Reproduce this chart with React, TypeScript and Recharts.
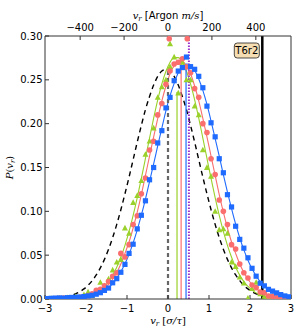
import React from 'react';
import { ComposedChart, XAxis, YAxis, Line, Scatter, ReferenceLine } from 'recharts';

const binCenters = [
  -2.95, -2.85, -2.75, -2.65, -2.55, -2.45, -2.35, -2.25, -2.15, -2.05,
  -1.95, -1.85, -1.75, -1.65, -1.55, -1.45, -1.35, -1.25, -1.15, -1.05,
  -0.95, -0.85, -0.75, -0.65, -0.55, -0.45, -0.35, -0.25, -0.15, -0.05,
  0.05, 0.15, 0.25, 0.35, 0.45, 0.55, 0.65, 0.75, 0.85, 0.95,
  1.05, 1.15, 1.25, 1.35, 1.45, 1.55, 1.65, 1.75, 1.85, 1.95,
  2.05, 2.15, 2.25, 2.35, 2.45, 2.55, 2.65, 2.75, 2.85, 2.95,
];

const blueFit = [
  0.0, 0.0, 0.0001, 0.0001, 0.0001, 0.0002, 0.0004, 0.0006, 0.001, 0.0015,
  0.0022, 0.0032, 0.0047, 0.0067, 0.0094, 0.0129, 0.0176, 0.0236, 0.031, 0.0401,
  0.051, 0.0641, 0.0789, 0.0956, 0.114, 0.134, 0.154, 0.175, 0.195, 0.215,
  0.232, 0.246, 0.258, 0.265, 0.268, 0.267, 0.261, 0.251, 0.238, 0.222,
  0.203, 0.183, 0.163, 0.142, 0.122, 0.103, 0.0853, 0.0698, 0.056, 0.0443,
  0.0344, 0.0263, 0.0198, 0.0147, 0.0107, 0.0076, 0.0054, 0.0037, 0.0026, 0.0017,
];
const redFit = [
  0.0, 0.0, 0.0001, 0.0001, 0.0002, 0.0003, 0.0004, 0.0007, 0.0011, 0.0018,
  0.0027, 0.004, 0.0058, 0.0085, 0.012, 0.0166, 0.0226, 0.0304, 0.04, 0.052,
  0.065, 0.081, 0.099, 0.119, 0.141, 0.163, 0.185, 0.206, 0.226, 0.243,
  0.257, 0.266, 0.271, 0.271, 0.266, 0.257, 0.243, 0.226, 0.206, 0.185,
  0.163, 0.141, 0.119, 0.099, 0.081, 0.065, 0.052, 0.04, 0.0304, 0.0226,
  0.0166, 0.012, 0.0085, 0.0058, 0.004, 0.0027, 0.0018, 0.0011, 0.0007, 0.0004,
];
const greenFit = [
  0.0, 0.0, 0.0001, 0.0001, 0.0002, 0.0003, 0.0005, 0.0008, 0.0013, 0.0021,
  0.0032, 0.0048, 0.007, 0.0102, 0.0144, 0.0199, 0.0272, 0.0363, 0.0476, 0.0612,
  0.0771, 0.0953, 0.1156, 0.1375, 0.1604, 0.1836, 0.2062, 0.2271, 0.2453, 0.2598,
  0.2701, 0.2753, 0.2753, 0.2701, 0.2598, 0.2453, 0.2271, 0.2062, 0.1836, 0.1604,
  0.1375, 0.1156, 0.0953, 0.0771, 0.0612, 0.0476, 0.0363, 0.0272, 0.0199, 0.0144,
  0.0102, 0.007, 0.0048, 0.0032, 0.0021, 0.0013, 0.0008, 0.0005, 0.0003, 0.0002,
];
const refFit = [
  0.0004, 0.0006, 0.0009, 0.0013, 0.002, 0.0029, 0.0042, 0.006, 0.0084, 0.0115,
  0.0156, 0.0209, 0.0274, 0.0355, 0.0452, 0.0567, 0.07, 0.0851, 0.1018, 0.12,
  0.139, 0.159, 0.179, 0.198, 0.216, 0.231, 0.244, 0.254, 0.26, 0.262,
  0.26, 0.254, 0.244, 0.231, 0.216, 0.198, 0.179, 0.159, 0.139, 0.12,
  0.1018, 0.0851, 0.07, 0.0567, 0.0452, 0.0355, 0.0274, 0.0209, 0.0156, 0.0115,
  0.0084, 0.006, 0.0042, 0.0029, 0.002, 0.0013, 0.0009, 0.0006, 0.0004, 0.0003,
];

const blueObs = [
  0.0005, 0.0008, 0.001, 0.0012, 0.001, 0.0015, 0.0018, 0.002, 0.0022, 0.0028,
  0.0035, 0.0042, 0.0055, 0.0072, 0.0098, 0.0125, 0.0185, 0.0232, 0.0305, 0.0395,
  0.052, 0.0625, 0.08, 0.0955, 0.112, 0.136, 0.15, 0.178, 0.192, 0.218,
  0.23, 0.249, 0.26, 0.264, 0.276, 0.265, 0.262, 0.254, 0.241, 0.22,
  0.201, 0.185, 0.16, 0.144, 0.119, 0.105, 0.083, 0.068, 0.058, 0.047,
  0.035, 0.026, 0.018, 0.015, 0.011, 0.009, 0.007, 0.005, 0.0035, 0.0025,
];
const redObs = [
  0.0002, 0.0003, 0.0005, 0.0008, 0.001, 0.0006, 0.0012, 0.0015, 0.002, 0.0025,
  0.004, 0.006, 0.01, 0.011, 0.015, 0.02, 0.026, 0.03, 0.052, 0.048,
  0.062, 0.085, 0.095, 0.12, 0.138, 0.17, 0.18, 0.21, 0.223, 0.245,
  0.26, 0.268, 0.27, 0.274, 0.265, 0.258, 0.24, 0.23, 0.2, 0.19,
  0.16, 0.142, 0.113, 0.1, 0.085, 0.062, 0.057, 0.04, 0.03, 0.024,
  0.016, 0.013, 0.008, 0.007, 0.0035, 0.003, 0.0015, 0.001, 0.0008, 0.0005,
];
const greenObs = [
  0.0, 0.0005, 0.0, 0.001, 0.0005, 0.0015, 0.001, 0.003, 0.002, 0.005,
  0.008, 0.004, 0.009, 0.019, 0.015, 0.023, 0.033, 0.042, 0.045, 0.081,
  0.075, 0.11, 0.118, 0.135, 0.165, 0.18, 0.195, 0.23, 0.242, 0.25,
  0.265, 0.276, 0.235, 0.27, 0.25, 0.25, 0.22, 0.21, 0.17, 0.15,
  0.14, 0.1, 0.079, 0.08, 0.075, 0.042, 0.037, 0.025, 0.018, 0.001,
  0.012, 0.019, 0.006, 0.003, 0.002, 0.0035, 0.001, 0.0, 0.0005, 0.0,
];

const redTopX = [0.03, 0.47];
const redTopY = [0.297, 0.297];
const greenTopX = [0.05];
const greenTopY = [0.291];

// vertical marker lines: position (sigma/tau) and height
const gaussMeanX = 0;
const gaussMeanTop = 0.262;
const greenMeanX = 0.22;
const greenMeanTop = 0.236;
const redMeanX = 0.32;
const redMeanTop = 0.272;
const blueMeanX = 0.44;
const blueMeanTop = 0.268;
const purpleX = 0.51;
const thresholdX = 2.3;
const thresholdLabel = 'T6r2';

const bottomTicks = [-3, -2, -1, 0, 1, 2, 3];
const topTicks = [-400, -200, 0, 200, 400];
const yTicks = [0, 0.05, 0.1, 0.15, 0.2, 0.25, 0.3];
const msPerUnit = 186.7;

const BLUE = '#1f6bff';
const RED = '#fa6e6e';
const GREEN = '#9ad12a';
const PURPLE = '#9932cc';

const toPts = (xs: number[], ys: number[]) => xs.map((x, i) => ({ x, y: ys[i] }));

const Square = (p: any) => <rect x={p.cx - 2.6} y={p.cy - 2.6} width={5.2} height={5.2} fill={BLUE} />;
const Dot = (p: any) => <circle cx={p.cx} cy={p.cy} r={2.8} fill={RED} />;
const Tri = (p: any) => (
  <polygon points={`${p.cx},${p.cy - 3.2} ${p.cx - 3},${p.cy + 2.4} ${p.cx + 3},${p.cy + 2.4}`} fill={GREEN} />
);

const FONT = 'DejaVu Sans';
const MATH = 'DejaVu Serif';

const BottomTitle = (props: any) => {
  const vb = props.viewBox || {};
  return (
    <text x={vb.x + vb.width / 2} y={vb.y + 25} textAnchor="middle" fontSize={10} fill="#000">
      <tspan fontFamily={MATH} fontStyle="italic">v</tspan>
      <tspan fontFamily={MATH} fontStyle="italic" fontSize={7} dy={2}>r</tspan>
      <tspan fontFamily={MATH} dy={-2}>{'  ['}</tspan>
      <tspan fontFamily={MATH} fontStyle="italic">σ/τ</tspan>
      <tspan fontFamily={MATH}>]</tspan>
    </text>
  );
};

const TopTitle = (props: any) => {
  const vb = props.viewBox || {};
  return (
    <text x={vb.x + vb.width / 2} y={vb.y + 19} textAnchor="middle" fontSize={10} fill="#000">
      <tspan fontFamily={MATH} fontStyle="italic">v</tspan>
      <tspan fontFamily={MATH} fontStyle="italic" fontSize={7} dy={2}>r</tspan>
      <tspan fontFamily={FONT} dy={-2}>{' [Argon '}</tspan>
      <tspan fontFamily={MATH} fontStyle="italic">m/s</tspan>
      <tspan fontFamily={FONT}>]</tspan>
    </text>
  );
};

const LeftTitle = (props: any) => {
  const vb = props.viewBox || {};
  const cx = 13;
  const cy = vb.y + vb.height / 2;
  return (
    <text x={cx} y={cy} transform={`rotate(-90 ${cx} ${cy})`} textAnchor="middle" fontSize={10} fill="#000">
      <tspan fontFamily={MATH} fontStyle="italic">P</tspan>
      <tspan fontFamily={MATH}>(</tspan>
      <tspan fontFamily={MATH} fontStyle="italic">v</tspan>
      <tspan fontFamily={MATH} fontStyle="italic" fontSize={7} dy={2}>r</tspan>
      <tspan fontFamily={MATH} dy={-2}>)</tspan>
    </text>
  );
};

const ThresholdTag = (props: any) => {
  const vb = props.viewBox || {};
  const x = vb.x - 28;
  const y = vb.y + 7;
  return (
    <g>
      <rect x={x} y={y} width={25} height={15} rx={3} ry={3} fill="#f5deb3" stroke="#222" strokeWidth={0.8} />
      <text x={x + 12.5} y={y + 11} textAnchor="middle" fontFamily={FONT} fontSize={10} fill="#000">
        {thresholdLabel}
      </text>
    </g>
  );
};

const tickStyle = { fontFamily: FONT, fontSize: 10, fill: '#000' };
const AX = '#333';
const fmtSigned = (v: number) => (v < 0 ? `\u2212${Math.abs(v)}` : `${v}`);

export default function App() {
  const ax = { xAxisId: 'b', yAxisId: 'l' } as const;
  return (
    <div style={{ position: 'absolute', left: 0, top: 0, width: 300, height: 330, background: '#fff' }}>
      <ComposedChart width={300} height={330} margin={{ top: 0, right: 8, bottom: 0, left: 10 }}>
        <XAxis
          xAxisId="b"
          type="number"
          dataKey="x"
          domain={[-3, 3]}
          ticks={bottomTicks}
          allowDataOverflow
          height={31}
          tickSize={-4}
          tickMargin={10}
          tick={tickStyle}
          tickFormatter={fmtSigned}
          axisLine={{ stroke: AX }}
          tickLine={{ stroke: AX }}
          label={<BottomTitle />}
        />
        <XAxis
          xAxisId="t"
          orientation="top"
          type="number"
          dataKey="x"
          domain={[-3 * msPerUnit, 3 * msPerUnit]}
          ticks={topTicks}
          allowDataOverflow
          height={36}
          tickSize={-4}
          tickMargin={9}
          tick={tickStyle}
          tickFormatter={fmtSigned}
          axisLine={{ stroke: AX }}
          tickLine={{ stroke: AX }}
          label={<TopTitle />}
        />
        <YAxis
          yAxisId="l"
          type="number"
          domain={[0, 0.3]}
          ticks={yTicks}
          allowDataOverflow
          width={35}
          tickSize={-4}
          tickMargin={6.5}
          tick={tickStyle}
          tickFormatter={(v: number) => v.toFixed(2)}
          axisLine={{ stroke: AX }}
          tickLine={{ stroke: AX }}
          label={<LeftTitle />}
        />
        <YAxis
          yAxisId="r"
          orientation="right"
          type="number"
          domain={[0, 0.3]}
          ticks={yTicks}
          allowDataOverflow
          width={1}
          tickSize={-4}
          tick={false}
          axisLine={{ stroke: AX }}
          tickLine={{ stroke: AX }}
        />

        {/* invisible carrier so the top (m/s) axis is drawn */}
        <Line
          xAxisId="t"
          yAxisId="r"
          data={topTicks.map((v) => ({ x: v, y: 0 }))}
          dataKey="y"
          stroke="none"
          dot={false}
          activeDot={false}
          isAnimationActive={false}
        />

        <Line {...ax} data={toPts(binCenters, refFit)} dataKey="y" type="monotone" stroke="#000" strokeWidth={1.4} strokeDasharray="5 4" dot={false} isAnimationActive={false} />
        <Line {...ax} data={toPts(binCenters, greenFit)} dataKey="y" type="monotone" stroke={GREEN} strokeWidth={1.1} dot={false} isAnimationActive={false} />
        <Line {...ax} data={toPts(binCenters, redFit)} dataKey="y" type="monotone" stroke={RED} strokeWidth={1.1} dot={false} isAnimationActive={false} />
        <Line {...ax} data={toPts(binCenters, blueFit)} dataKey="y" type="monotone" stroke={BLUE} strokeWidth={1.1} dot={false} isAnimationActive={false} />

        <ReferenceLine {...ax} segment={[{ x: gaussMeanX, y: 0 }, { x: gaussMeanX, y: gaussMeanTop }]} stroke="#666" strokeWidth={2.2} strokeDasharray="4 3" />
        <ReferenceLine {...ax} segment={[{ x: greenMeanX, y: 0 }, { x: greenMeanX, y: greenMeanTop }]} stroke={GREEN} strokeWidth={1.2} />
        <ReferenceLine {...ax} segment={[{ x: redMeanX, y: 0 }, { x: redMeanX, y: redMeanTop }]} stroke={RED} strokeWidth={1.2} />
        <ReferenceLine {...ax} segment={[{ x: blueMeanX, y: 0 }, { x: blueMeanX, y: blueMeanTop }]} stroke={BLUE} strokeWidth={1.2} />

        <Scatter {...ax} data={toPts(binCenters, greenObs)} dataKey="y" shape={Tri} isAnimationActive={false} />
        <Scatter {...ax} data={toPts(binCenters, redObs)} dataKey="y" shape={Dot} isAnimationActive={false} />
        <Scatter {...ax} data={toPts(binCenters, blueObs)} dataKey="y" shape={Square} isAnimationActive={false} />
        <Scatter {...ax} data={toPts(greenTopX, greenTopY)} dataKey="y" shape={Tri} isAnimationActive={false} />
        <Scatter {...ax} data={toPts(redTopX, redTopY)} dataKey="y" shape={Dot} isAnimationActive={false} />

        <ReferenceLine {...ax} x={purpleX} stroke={PURPLE} strokeWidth={2} strokeDasharray="1.5 1.5" />
        <ReferenceLine {...ax} x={thresholdX} stroke="#000" strokeWidth={2.5} label={<ThresholdTag />} />
      </ComposedChart>
    </div>
  );
}
